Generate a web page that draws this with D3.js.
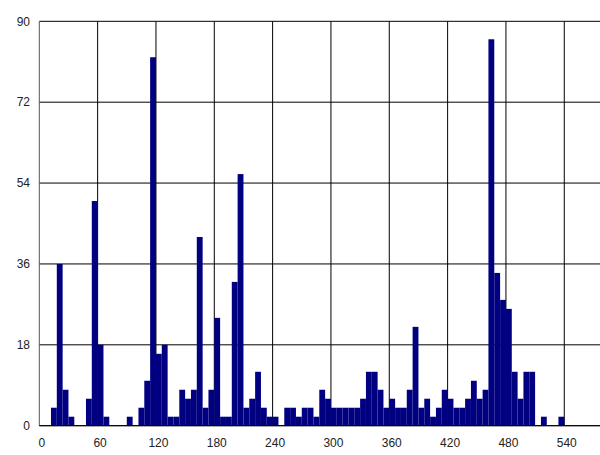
<!DOCTYPE html>
<html>
<head>
<meta charset="utf-8">
<script src="https://cdn.jsdelivr.net/npm/d3@7"></script>
<style>
  html, body { margin: 0; padding: 0; background: #fff; }
  svg { display: block; }
  text { font-family: Arial, "Liberation Sans", sans-serif; font-size: 12px; fill: #222; }
</style>
</head>
<body>
<svg id="chart" width="600" height="455"></svg>
<script>
// Histogram bins of width 6, starting at 0
const binWidth = 6;
const counts = [
  0, 0, 4, 36, 8, 2, 0, 0, 6, 50,
  18, 2, 0, 0, 0, 2, 0, 4, 10, 82,
  16, 18, 2, 2, 8, 6, 8, 42, 4, 8,
  24, 2, 2, 32, 56, 4, 6, 12, 4, 2,
  2, 0, 4, 4, 2, 4, 4, 2, 8, 6,
  4, 4, 4, 4, 4, 6, 12, 12, 8, 4,
  6, 4, 4, 8, 22, 4, 6, 2, 4, 8,
  6, 4, 4, 6, 10, 6, 8, 86, 34, 28,
  26, 12, 6, 12, 12, 0, 2, 0, 0, 2
];
const xTicks = [0, 60, 120, 180, 240, 300, 360, 420, 480, 540];
const yTicks = [0, 18, 36, 54, 72, 90];

const svg = d3.select("#chart");
const x = d3.scaleLinear().domain([0, 600]).range([39.3, 622.6]);
const y = d3.scaleLinear().domain([0, 90]).range([425.7, 21.3]);

// grid lines
const grid = svg.append("g");
grid.selectAll("line.h").data(yTicks).join("line")
  .attr("x1", x(0)).attr("x2", 600)
  .attr("y1", d => y(d)).attr("y2", d => y(d))
  .attr("stroke", "#000").attr("stroke-width", 1);
grid.selectAll("line.v").data(xTicks).join("line")
  .attr("x1", d => x(d)).attr("x2", d => x(d))
  .attr("y1", y(90)).attr("y2", y(0))
  .attr("stroke", d => d === 0 ? "#555" : "#000").attr("stroke-width", 1);

// bars
const bins = counts.map((c, i) => ({ x0: i * binWidth, x1: (i + 1) * binWidth, c }));
svg.append("g").selectAll("rect").data(bins.filter(b => b.c > 0)).join("rect")
  .attr("x", d => x(d.x0))
  .attr("width", d => x(d.x1) - x(d.x0))
  .attr("y", d => y(d.c))
  .attr("height", d => y(0) - y(d.c))
  .attr("fill", "#000080");

// baseline
svg.append("line")
  .attr("x1", x(0)).attr("x2", 600)
  .attr("y1", y(0)).attr("y2", y(0))
  .attr("stroke", "#000");

// y labels
svg.append("g").selectAll("text").data(yTicks).join("text")
  .attr("x", 30).attr("y", d => y(d))
  .attr("dy", "0.35em")
  .attr("text-anchor", "end")
  .text(d => d);

// x labels
svg.append("g").selectAll("text").data(xTicks).join("text")
  .attr("x", d => x(d) + 2.5).attr("y", 447)
  .attr("text-anchor", "middle")
  .text(d => d);
</script>
</body>
</html>
